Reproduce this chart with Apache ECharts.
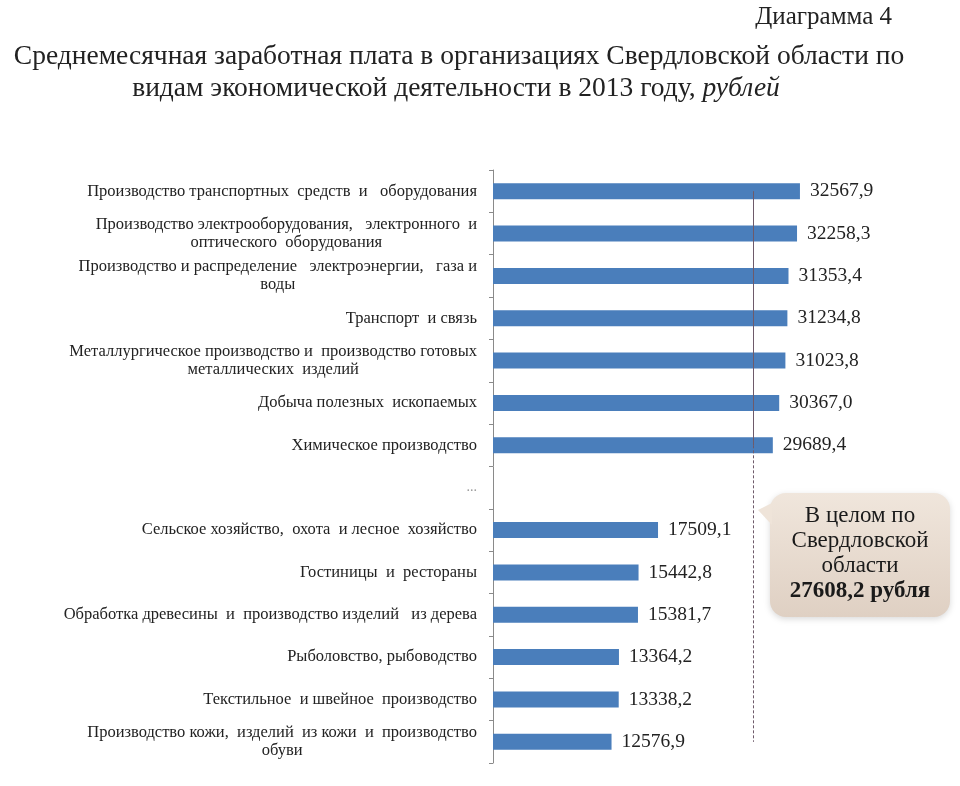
<!DOCTYPE html>
<html>
<head>
<meta charset="utf-8">
<script src="https://cdn.jsdelivr.net/npm/echarts@6/dist/echarts.min.js"></script>
<style>
html,body{margin:0;padding:0;background:#fff;}
#chart{width:960px;height:786px;}
</style>
</head>
<body>
<div id="chart"></div>
<script>
const categories = [
  'Производство транспортных  средств  и   оборудования',
  'Производство электрооборудования,   электронного  и\nоптического  оборудования',
  'Производство и распределение   электроэнергии,   газа и\nводы',
  'Транспорт  и связь',
  'Металлургическое производство и  производство готовых\nметаллических  изделий',
  'Добыча полезных  ископаемых',
  'Химическое производство',
  '...',
  'Сельское хозяйство,  охота  и лесное  хозяйство',
  'Гостиницы  и  рестораны',
  'Обработка древесины  и  производство изделий   из дерева',
  'Рыболовство, рыбоводство',
  'Текстильное  и швейное  производство',
  'Производство кожи,  изделий  из кожи  и  производство\nобуви'
];
const values = [32567.9, 32258.3, 31353.4, 31234.8, 31023.8, 30367.0, 29689.4, null,
  17509.1, 15442.8, 15381.7, 13364.2, 13338.2, 12576.9];
const regionAverage = 27608.2;
const calloutLines = ['В целом по', 'Свердловской', 'области'];
const calloutValue = '27608,2 рубля';

const serif = '"Liberation Serif", "Times New Roman", serif';
const chart = echarts.init(document.getElementById('chart'));

const fmt = v => v.toFixed(1).replace('.', ',');

chart.setOption({
  animation: false,
  backgroundColor: '#ffffff',
  title: [
    { text: 'Диаграмма 4', right: 63, top: 0,
      textStyle: { fontFamily: serif, fontSize: 25, fontWeight: 'normal', color: '#222' } },
    { text: 'Среднемесячная заработная плата в организациях Свердловской области по', left: 454, textAlign: 'center', top: 38,
      textStyle: { fontFamily: serif, fontSize: 27.5, fontWeight: 'normal', color: '#222' } },
    { text: '{n|видам экономической деятельности в 2013 году, }{i|рублей}', left: 451, textAlign: 'center', top: 70,
      textStyle: { fontFamily: serif, fontSize: 27.5, fontWeight: 'normal', color: '#222',
        rich: { n: { fontFamily: serif, fontSize: 27.5, color: '#222' },
                i: { fontFamily: serif, fontSize: 27.5, fontStyle: 'italic', color: '#222' } } } }
  ],
  grid: { left: 493, right: 90, top: 170, bottom: 23, containLabel: false },
  xAxis: { type: 'value', min: 0, max: 40000, show: false },
  yAxis: {
    type: 'category', inverse: true, data: categories,
    axisLine: { show: true, lineStyle: { color: '#8a8a8a', width: 1 } },
    axisTick: { show: true, length: 4, lineStyle: { color: '#8a8a8a' } },
    axisLabel: {
      margin: 16, interval: 0,
      formatter: v => v === '...' ? '{d|...}' : v.split('\n').map(s => '{c|' + s + '}').join('\n'),
      rich: {
        c: { align: 'center', fontFamily: serif, fontSize: 16.5, lineHeight: 18, color: '#222' },
        d: { fontFamily: serif, fontSize: 14, color: '#999' }
      }
    }
  },
  series: [{
    type: 'bar', data: values, barWidth: 16, z: 2,
    itemStyle: { color: '#4a7ebb' },
    label: { show: true, position: 'right', distance: 10, fontFamily: serif, fontSize: 19.5, color: '#222',
      formatter: p => fmt(p.value) },
    markLine: {
      silent: true, symbol: 'none', z: 10, label: { show: false },
      data: [
        [{ coord: [regionAverage, categories[0]], lineStyle: { type: 'solid', color: '#6e5a6a', width: 1 } },
         { coord: [regionAverage, categories[6]] }],
        [{ coord: [regionAverage, categories[6]], lineStyle: { type: [3, 2], color: '#6e5a6a', width: 1 } },
         { coord: [regionAverage, categories[13]] }]
      ]
    }
  }],
  graphic: [{
    type: 'group', left: 758, top: 493,
    children: [
      { type: 'rect', shape: { x: 12, y: 0, width: 180, height: 124, r: 16 },
        style: { fill: new echarts.graphic.LinearGradient(0, 0, 0, 1, [{ offset: 0, color: '#f0e6dc' }, { offset: 1, color: '#dfd0c3' }]),
                 shadowBlur: 6, shadowColor: 'rgba(0,0,0,0.15)', shadowOffsetY: 2 } },
      { type: 'polygon', shape: { points: [[0, 17], [14, 10], [14, 32]] }, style: { fill: '#efe4d9' } },
      { type: 'text', style: { x: 102, y: 10, text: calloutLines.join('\n'), align: 'center',
        fontFamily: serif, fontSize: 23, lineHeight: 25, fill: '#1a1a1a' } },
      { type: 'text', style: { x: 102, y: 87, text: calloutValue, align: 'center',
        fontFamily: serif, fontSize: 23, fontWeight: 'bold', fill: '#1a1a1a' } }
    ]
  }]
});
</script>
</body>
</html>
